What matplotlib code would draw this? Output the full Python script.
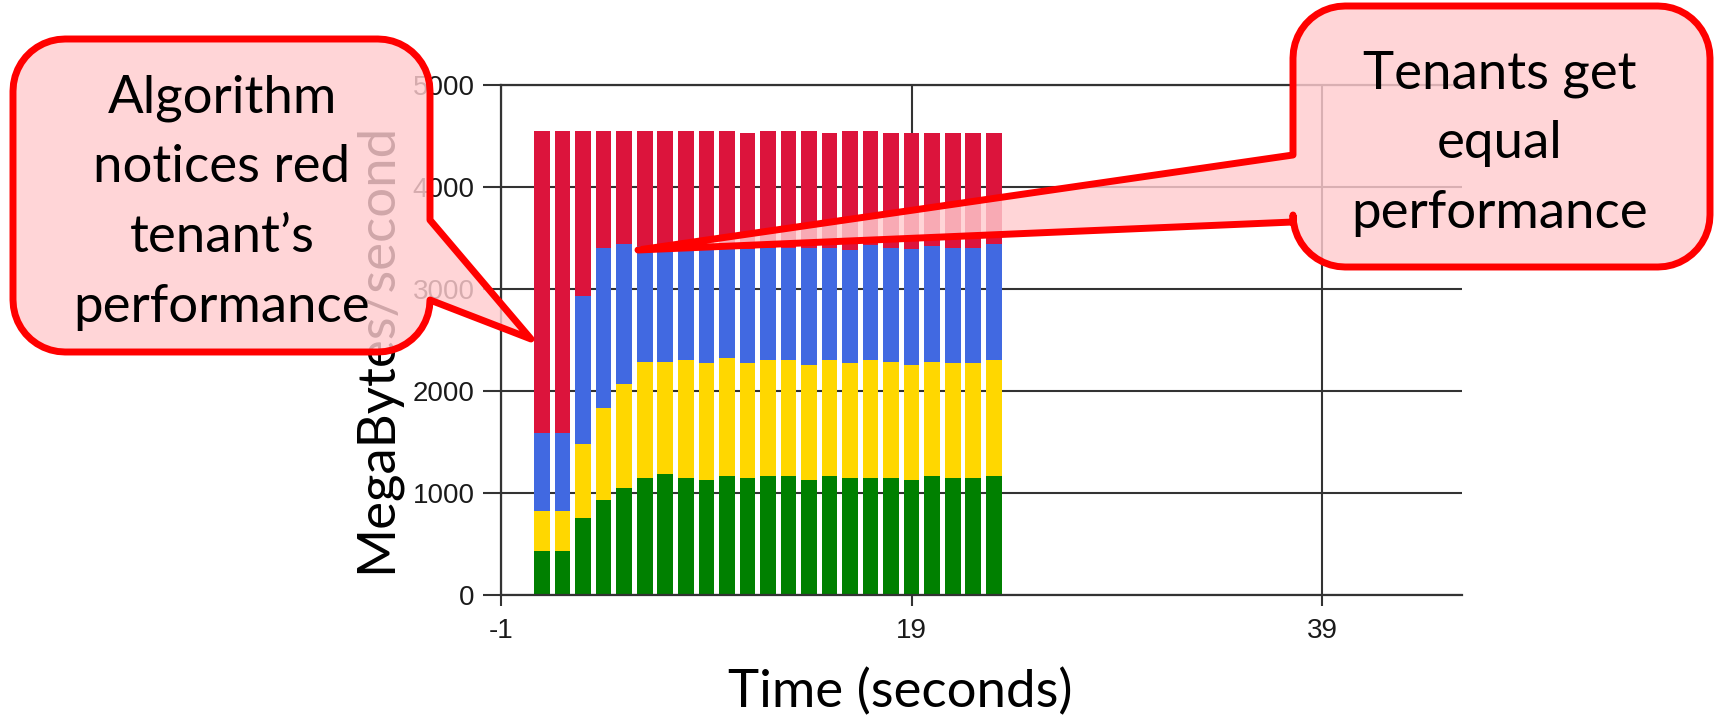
import numpy as np
import matplotlib
matplotlib.use('Agg')
import matplotlib.pyplot as plt
from matplotlib.path import Path
from matplotlib.patches import PathPatch
from matplotlib import font_manager

plt.rcParams['axes.unicode_minus'] = False

# ---------------- data ----------------
time_s = [1, 2, 3, 4, 5, 6, 7, 8, 9, 10, 11, 12, 13, 14, 15, 16, 17, 18, 19, 20, 21, 22, 23]
green = [430, 430, 750, 925, 1045, 1145, 1185, 1145, 1125, 1165, 1145, 1165,
         1165, 1125, 1165, 1145, 1145, 1145, 1125, 1165, 1145, 1145, 1165]
yellow = [390, 390, 725, 905, 1025, 1140, 1100, 1160, 1145, 1160, 1125, 1140,
          1140, 1125, 1140, 1125, 1160, 1140, 1125, 1120, 1125, 1125, 1140]
blue = [770, 770, 1455, 1575, 1375, 1135, 1115, 1090, 1120, 1065, 1125, 1095,
        1095, 1150, 1100, 1110, 1130, 1120, 1140, 1135, 1135, 1135, 1140]
red = [2965, 2965, 1625, 1150, 1110, 1135, 1155, 1160, 1165, 1165, 1135, 1155,
       1155, 1155, 1125, 1175, 1120, 1125, 1140, 1110, 1125, 1125, 1085]
series_colors = ['#008000', '#FFD700', '#4169E1', '#DC143C']
y_ticks = [0, 1000, 2000, 3000, 4000, 5000]
x_ticks = [-1, 19, 39]
x_label = 'Time (seconds)'
y_label = 'MegaBytes/second'
left_note = ['Algorithm', 'notices red', 'tenant\u2019s', 'performance']
right_note = ['Tenants get', 'equal', 'performance']

# ---------------- fonts ----------------
names = {f.name for f in font_manager.fontManager.ttflist}
tick_font = 'Liberation Sans Narrow' if 'Liberation Sans Narrow' in names else 'Liberation Sans'
label_font = 'Lato' if 'Lato' in names else 'DejaVu Sans'

W, H = 1717, 721
fig = plt.figure(figsize=(W / 100, H / 100), dpi=100)
fig.patch.set_facecolor('white')

ax = fig.add_axes([501 / W, 1 - 594.6 / H, (1462 - 501) / W, (594.6 - 85.4) / H])
ax.set_axisbelow(True)

bottoms = np.zeros(len(time_s))
for vals, col in zip([green, yellow, blue, red], series_colors):
    ax.bar(time_s, vals, width=0.76, bottom=bottoms, color=col, edgecolor='none', zorder=2)
    bottoms = bottoms + np.array(vals)

ax.set_xlim(-1, 45.8)
ax.set_ylim(0, 5000)
ax.set_xticks(x_ticks)
ax.set_yticks(y_ticks)
ax.grid(True, color='#333333', linewidth=1.5)
ax.spines['right'].set_visible(False)
for side in ['left', 'bottom', 'top']:
    ax.spines[side].set_color('#333333')
    ax.spines[side].set_linewidth(1.6)
ax.tick_params(axis='y', length=13, width=1.5, pad=6, labelsize=20, colors='#333333')
ax.tick_params(axis='x', length=8, width=1.5, pad=9, labelsize=20, colors='#333333')
for lab in ax.get_xticklabels() + ax.get_yticklabels():
    lab.set_fontfamily(tick_font)
    lab.set_color('#1a1a1a')

fig.text(376 / W, 1 - 348 / H, y_label, rotation=90, ha='center', va='center',
         fontsize=38, family=label_font, color='black')
fig.text(900 / W, 1 - 692 / H, x_label, ha='center', va='center',
         fontsize=38, family=label_font, color='black')

# ---------------- callouts overlay ----------------
ov = fig.add_axes([0, 0, 1, 1], zorder=10)
ov.set_xlim(0, W)
ov.set_ylim(H, 0)
ov.axis('off')
ov.patch.set_alpha(0)


def corner(cx, cy, r, a0, a1, n=12):
    t = np.linspace(np.radians(a0), np.radians(a1), n)
    return [(cx + r * np.cos(a), cy + r * np.sin(a)) for a in t]


def callout(x0, y0, x1, y1, r, tail_side, ty0, ty1, tip):
    pts = []
    pts += corner(x0 + r, y0 + r, r, 180, 270)
    pts += corner(x1 - r, y0 + r, r, 270, 360)
    if tail_side == 'right':
        pts += [(x1, ty0), tip, (x1, ty1)]
    pts += corner(x1 - r, y1 - r, r, 0, 90)
    pts += corner(x0 + r, y1 - r, r, 90, 180)
    if tail_side == 'left':
        pts += [(x0, ty1), tip, (x0, ty0)]
    pts.append(pts[0])
    codes = [Path.MOVETO] + [Path.LINETO] * (len(pts) - 2) + [Path.CLOSEPOLY]
    return Path(pts, codes)


fill = (1.0, 0.80, 0.81, 0.82)
p1 = callout(13, 39, 430, 352, 52, 'right', 220, 300, (531, 339))
ov.add_patch(PathPatch(p1, facecolor=fill, edgecolor='#FF0000', linewidth=5, joinstyle='round'))
p2 = callout(1293, 6, 1710, 267, 52, 'left', 155, 222, (638, 250))
ov.add_patch(PathPatch(p2, facecolor=fill, edgecolor='#FF0000', linewidth=5, joinstyle='round'))

for i, line in enumerate(left_note):
    ov.text(222, 112 + 70 * i, line, ha='center', va='baseline', fontsize=38,
            family=label_font, color='black')
for i, line in enumerate(right_note):
    ov.text(1500, 88 + 70 * i, line, ha='center', va='baseline', fontsize=38,
            family=label_font, color='black')

fig.savefig('out.png', dpi=100)
